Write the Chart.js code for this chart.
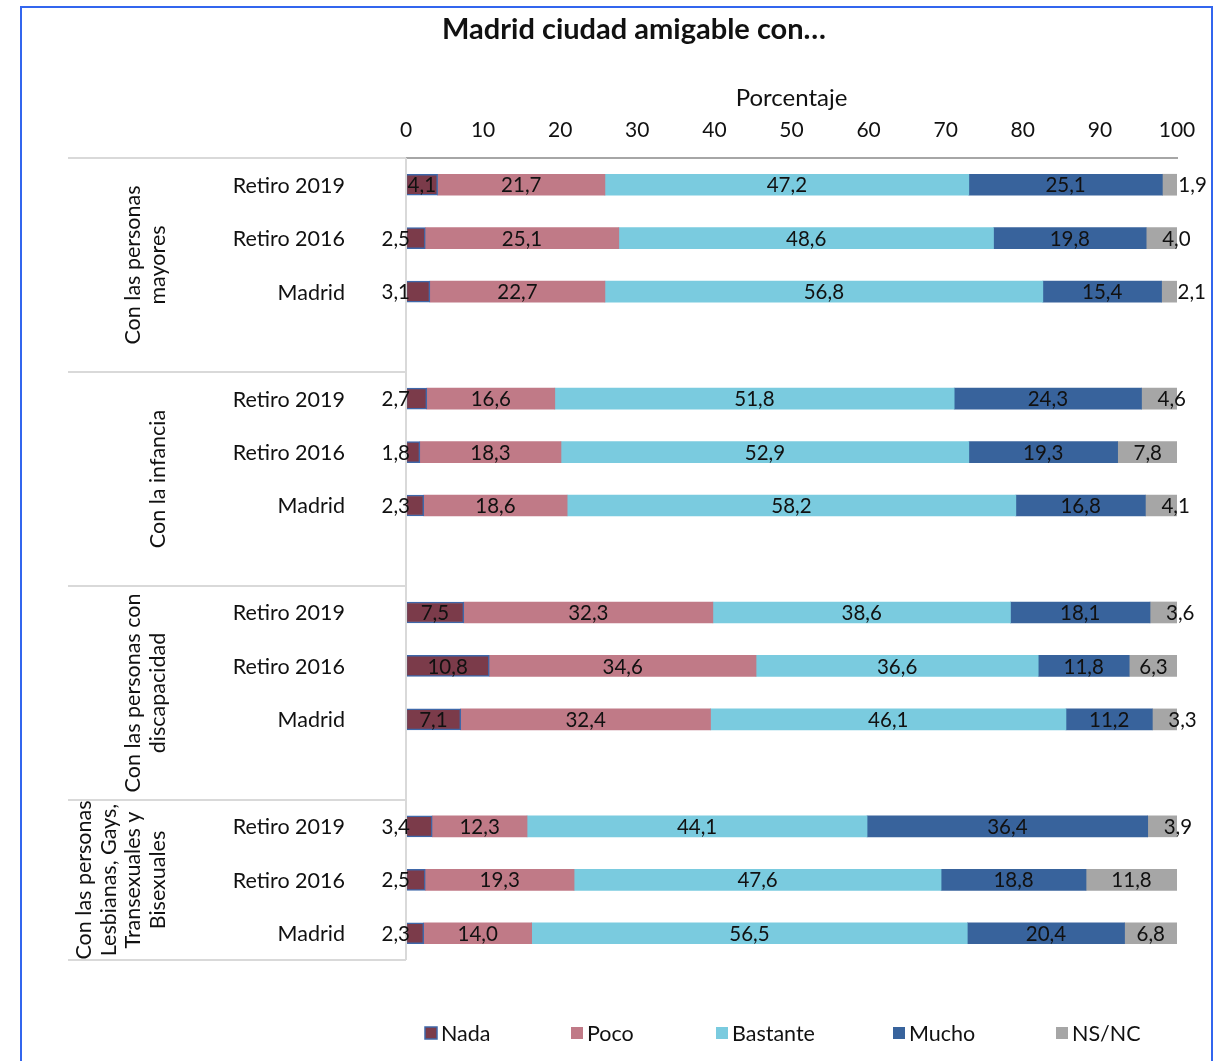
<!DOCTYPE html>
<html>
<head>
<meta charset="utf-8">
<script src="https://cdn.jsdelivr.net/npm/chart.js@4/dist/chart.umd.min.js"></script>
<style>
  html, body { margin: 0; padding: 0; background: #fff; }
  #frame { position: absolute; left: 20px; top: 6px; width: 1189px; height: 1080px; border: 2px solid #3366ee; }
  #wrap { position: absolute; left: 0; top: 0; width: 1214px; height: 1061px; }
</style>
</head>
<body>
<div id="frame"></div>
<div id="wrap"><canvas id="chart"></canvas></div>
<script>
// categories (empty slot = gap between groups)
const rowLabels = ["Retiro 2019","Retiro 2016","Madrid","",
                   "Retiro 2019","Retiro 2016","Madrid","",
                   "Retiro 2019","Retiro 2016","Madrid","",
                   "Retiro 2019","Retiro 2016","Madrid"];
const groupLabels = [
  ["Con las personas","mayores"],
  ["Con la infancia"],
  ["Con las personas con","discapacidad"],
  ["Con las personas","Lesbianas, Gays,","Transexuales y","Bisexuales"]
];
const seriesNames = ["Nada","Poco","Bastante","Mucho","NS/NC"];
const seriesColors = ["#7b3b4a","#c07a87","#7acbdf","#38639c","#a6a6a6"];

const nada     = [4.1, 2.5, 3.1, null, 2.7, 1.8, 2.3, null, 7.5, 10.8, 7.1, null, 3.4, 2.5, 2.3];
const poco     = [21.7,25.1,22.7,null,16.6,18.3,18.6,null,32.3,34.6,32.4,null,12.3,19.3,14.0];
const bastante = [47.2,48.6,56.8,null,51.8,52.9,58.2,null,38.6,36.6,46.1,null,44.1,47.6,56.5];
const mucho    = [25.1,19.8,15.4,null,24.3,19.3,16.8,null,18.1,11.8,11.2,null,36.4,18.8,20.4];
const nsnc     = [1.9, 4.0, 2.1, null, 4.6, 7.8, 4.1, null, 3.6, 6.3, 3.3, null, 3.9, 11.8, 6.8];

const xTicks = [0,10,20,30,40,50,60,70,80,90,100];

const FONT = "Lato, 'Open Sans', sans-serif";
const values = [nada, poco, bastante, mucho, nsnc];

const datasets = seriesNames.map((name, i) => ({
  label: name,
  data: values[i],
  backgroundColor: seriesColors[i],
  borderColor: i === 0 ? "#3f67a8" : seriesColors[i],
  borderWidth: i === 0 ? 1.5 : 0,
  borderSkipped: false,
  barThickness: 21
}));

const fmt = v => v.toFixed(1).replace(".", ",");

const decor = {
  id: "decor",
  afterDraw(chart) {
    const ctx = chart.ctx;
    const y = chart.scales.y;
    const area = chart.chartArea;
    ctx.save();

    // title
    ctx.fillStyle = "#111";
    ctx.font = "bold 29px " + FONT;
    ctx.textAlign = "center";
    ctx.textBaseline = "middle";
    ctx.fillText("Madrid ciudad amigable con…", 634, 30);

    // separator lines on the left
    ctx.strokeStyle = "#d9d9d9";
    ctx.lineWidth = 2;
    const seps = [158, 372, 586, 800, 960];
    seps.forEach(sy => {
      ctx.beginPath();
      ctx.moveTo(68, sy);
      ctx.lineTo(area.left, sy);
      ctx.stroke();
    });
    ctx.beginPath();
    ctx.moveTo(area.left, area.top);
    ctx.lineTo(area.left, area.bottom);
    ctx.stroke();

    // row labels
    ctx.fillStyle = "#111";
    ctx.font = "21.5px " + FONT;
    ctx.textAlign = "right";
    rowLabels.forEach((lab, i) => {
      if (!lab) return;
      ctx.fillText(lab, 345, y.getPixelForValue(i) + 1);
    });

    // group labels (rotated)
    groupLabels.forEach((lines, g) => {
      const cy = (seps[g] + seps[g + 1]) / 2;
      const n = lines.length;
      lines.forEach((t, k) => {
        const lx = 158 - (n - 1 - k) * 24.5;
        ctx.save();
        ctx.translate(lx, cy);
        ctx.rotate(-Math.PI / 2);
        ctx.textAlign = "center";
        ctx.fillText(t, 0, 0);
        ctx.restore();
      });
    });

    // data labels
    ctx.font = "20.5px " + FONT;
    chart.data.datasets.forEach((ds, di) => {
      const meta = chart.getDatasetMeta(di);
      meta.data.forEach((bar, i) => {
        const v = ds.data[i];
        if (v == null) return;
        const left = Math.min(bar.x, bar.base);
        const right = Math.max(bar.x, bar.base);
        let tx = (left + right) / 2, align = "center";
        if (di === 0 && v < 4) { tx = left + 4; align = "right"; }
        if (di === 4 && v < 5) { tx = left + 16; align = "left"; }
        ctx.textAlign = align;
        ctx.fillText(fmt(v), tx, bar.y + 1);
      });
    });

    // legend
    const lx = [425, 571, 716, 893, 1056];
    ctx.font = "21.5px " + FONT;
    ctx.textAlign = "left";
    seriesNames.forEach((name, i) => {
      ctx.fillStyle = seriesColors[i];
      ctx.fillRect(lx[i], 1027, 12, 12);
      if (i === 0) {
        ctx.strokeStyle = "#3f67a8";
        ctx.lineWidth = 1.5;
        ctx.strokeRect(lx[i], 1027, 12, 12);
      }
      ctx.fillStyle = "#111";
      ctx.fillText(name, lx[i] + 16, 1034);
    });

    ctx.restore();
  }
};

new Chart(document.getElementById("chart"), {
  type: "bar",
  data: { labels: rowLabels, datasets },
  options: {
    indexAxis: "y",
    responsive: true,
    maintainAspectRatio: false,
    animation: false,
    layout: { padding: { top: 45, left: 406, right: 37, bottom: 101 } },
    plugins: {
      legend: { display: false },
      title: { display: false },
      tooltip: { enabled: false }
    },
    scales: {
      x: {
        position: "top",
        stacked: true,
        min: 0,
        max: 100,
        afterBuildTicks: s => { s.ticks = xTicks.map(v => ({ value: v })); },
        afterFit: s => { s.height = 113; },
        ticks: { font: { family: FONT, size: 21 }, color: "#111", padding: 15, maxRotation: 0 },
        grid: { display: false, drawTicks: false },
        border: { display: true, color: "#a6a6a6", width: 2 },
        title: { display: true, text: "Porcentaje", font: { family: FONT, size: 24 }, color: "#111", padding: { top: 39, bottom: 0 } }
      },
      y: {
        stacked: true,
        ticks: { display: false },
        grid: { display: false, drawTicks: false },
        border: { display: false },
        afterFit: s => { s.width = 0; }
      }
    }
  },
  plugins: [decor]
});
</script>
</body>
</html>
